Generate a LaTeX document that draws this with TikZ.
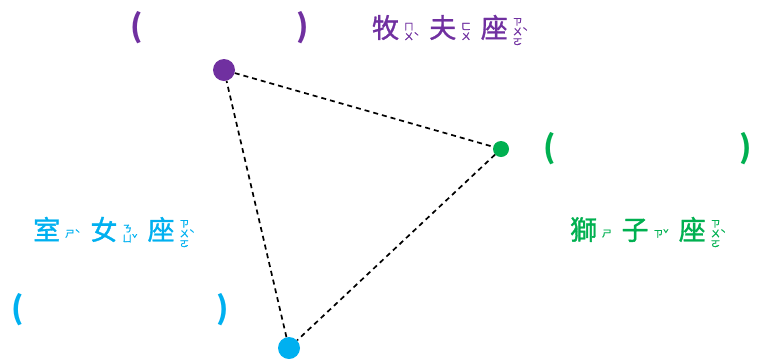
\documentclass[tikz,border=0pt]{standalone}
\usepackage{fontspec}
\newfontfamily\cjk{Noto Sans CJK TC}[FakeBold=1.2]
\newfontfamily\cjkfett{Noto Sans CJK TC}
\usepackage{tikz}
\definecolor{sternlila}{RGB}{112,48,160}
\definecolor{sterngruen}{RGB}{0,176,80}
\definecolor{sternblau}{RGB}{0,176,240}
% Zhuyin neben dem Zeichen
\newcommand{\zyfont}{\fontsize{9.5}{10}\selectfont}
\newcommand{\zy}[2]{#1\kern5pt$\vcenter{\zyfont\baselineskip=10pt\lineskiplimit=-10pt\halign{##\hfil\cr#2\crcr}}$\kern10pt}

\begin{document}
\begin{tikzpicture}[x=1pt, y=-1pt,
				punkt/.style={circle, fill=#1, inner sep=0pt},
				linie/.style={dashed, dash pattern=on 5pt off 4pt, line width=1.7pt},
				sternbild/.style={font=\cjk\fontsize{27}{27}\selectfont, inner sep=0pt},
				klammer/.style={font=\cjkfett\bfseries\fontsize{31}{31}\selectfont, inner sep=0pt}]
				%Rahmen
				\useasboundingbox (0,0) rectangle (763,360);
				% Sterne
				\node[punkt=sternlila, minimum size=22pt] (boo) at (224,70) {};
				\node[punkt=sterngruen, minimum size=16pt] (leo) at (501,149) {};
				\node[punkt=sternblau, minimum size=22pt] (vir) at (289,348) {};
				% Dreieck
				\draw[linie] (boo) -- (leo);
				\draw[linie] (leo) -- (vir);
				\draw[linie] (vir) -- (boo);
				% Namen
				\node[sternbild, text=sternlila] (boo name) at (455,30) {\zy{牧}{ㄇ\cr ㄨˋ}\zy{夫}{ㄈ\cr ㄨ}\zy{座}{ㄗ\cr ㄨˋ\cr ㄛ}};
				\node[sternbild, text=sterngruen] (leo name) at (653,232) {\zy{獅}{ㄕ}\zy{子}{ㄗˇ}\zy{座}{ㄗ\cr ㄨˋ\cr ㄛ}};
				\node[sternbild, text=sternblau] (vir name) at (119,232) {\zy{室}{ㄕˋ}\zy{女}{ㄋ\cr ㄩˇ}\zy{座}{ㄗ\cr ㄨˋ\cr ㄛ}};
				% Klammern
				\node[klammer, text=sternlila] (boo blank) at (219.5,28) {\makebox[179pt]{(\hfill)}};
				\node[klammer, text=sterngruen] (leo blank) at (647.5,149) {\makebox[209pt]{(\hfill)}};
				\node[klammer, text=sternblau] (vir blank) at (120.5,310) {\makebox[217pt]{(\hfill)}};
			\end{tikzpicture}
\end{document}
